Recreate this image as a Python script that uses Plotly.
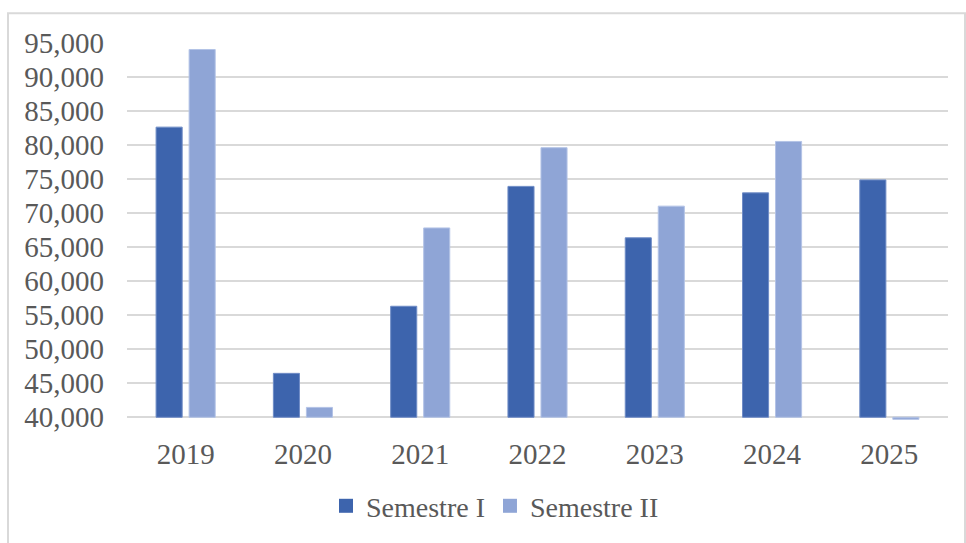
import plotly.graph_objects as go

# Student enrolment per semester, 2019-2025
years = ["2019", "2020", "2021", "2022", "2023", "2024", "2025"]
semestre_1 = [82600, 46450, 56300, 73900, 66350, 72950, 74850]
semestre_2 = [94000, 41450, 67800, 79580, 71000, 80500, 39700]

axis_base = 40000
tick_values = list(range(40000, 95001, 5000))
tick_labels = [f"{v:,}" for v in tick_values]

font_family = "Liberation Serif, Times New Roman, serif"
text_color = "#595959"
font_size = 29

series = [
    ("Semestre I", semestre_1, "#3D64AD", "#6F8CC6"),
    ("Semestre II", semestre_2, "#8FA5D6", "#B3C3E6"),
]

fig = go.Figure()
for name, values, color, edge in series:
    fig.add_trace(go.Bar(
        name=name, x=years, y=[v - axis_base for v in values], base=axis_base,
        marker=dict(color=color, line=dict(color=edge, width=1)),
        customdata=values, hovertemplate="%{x}: %{customdata:,}<extra>" + name + "</extra>",
        showlegend=False,
    ))
# legend entries with larger square keys
for name, values, color, edge in series:
    fig.add_trace(go.Scatter(
        name=name, x=[None], y=[None], mode="markers",
        marker=dict(symbol="square", size=14, color=color), showlegend=True,
    ))

# outer chart frame (pixel positions converted to paper units)
pl, pr, pt, pb = 127, 948, 42, 424
pw, ph = pr - pl, pb - pt
def px_x(x):
    return (x - pl) / pw
def px_y(y):
    return (pb - y) / ph

fig.add_shape(type="rect", xref="paper", yref="paper",
              x0=px_x(8), x1=px_x(965), y0=px_y(620), y1=px_y(13),
              line=dict(color="#D9D9D9", width=2), fillcolor="rgba(0,0,0,0)", layer="below")

fig.update_layout(
    width=966, height=543,
    margin=dict(l=pl, r=966 - pr, t=pt, b=543 - pb),
    paper_bgcolor="white", plot_bgcolor="white",
    barmode="group", bargap=0.437, bargroupgap=0.21,
    font=dict(family=font_family, size=font_size, color=text_color),
    showlegend=True,
    legend=dict(orientation="h", x=px_x(495), xanchor="center", y=px_y(511), yanchor="middle",
                font=dict(family=font_family, size=font_size - 1, color=text_color),
                itemwidth=30, tracegroupgap=0),
    xaxis=dict(showgrid=False, showline=False, ticks="", ticklabelstandoff=14,
               tickfont=dict(family=font_family, size=font_size, color=text_color)),
    yaxis=dict(range=[39600, 95100], tickvals=tick_values, ticktext=tick_labels,
               showgrid=True, gridcolor="#D9D9D9", gridwidth=1.5, zeroline=False,
               showline=False, ticks="", ticklabelstandoff=22,
               tickfont=dict(family=font_family, size=font_size, color=text_color)),
)

fig.write_html("out.html")
